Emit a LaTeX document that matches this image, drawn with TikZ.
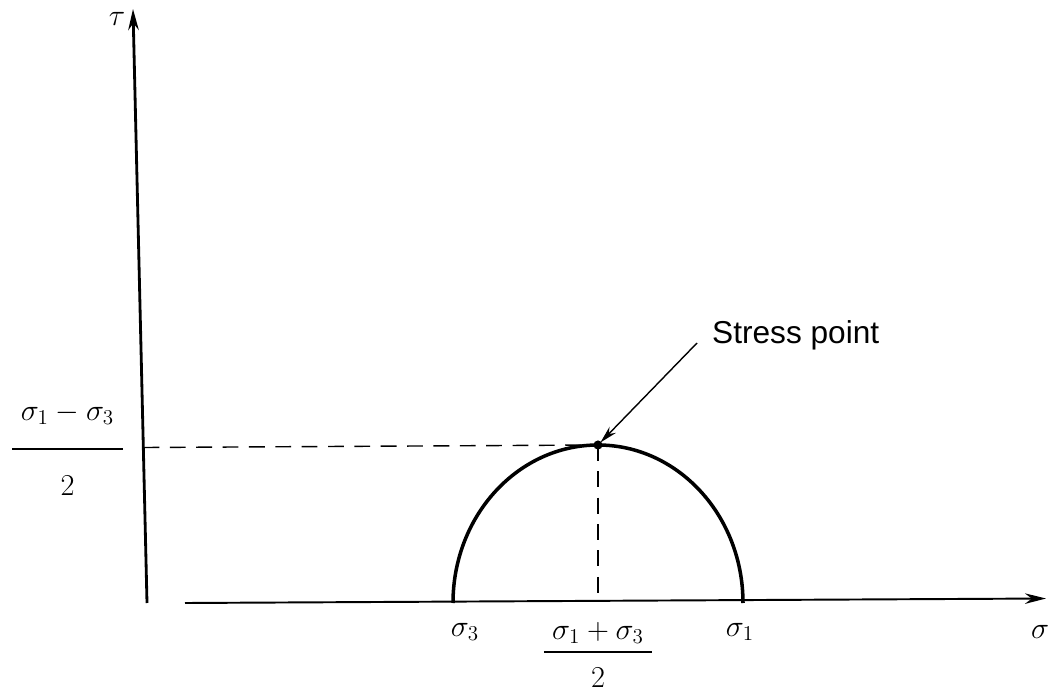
\documentclass[tikz,border=0pt]{standalone}
\usepackage{amsmath}
\usepackage{fontspec}
\setsansfont{Liberation Sans}
\usetikzlibrary{arrows.meta,positioning}

\tikzset{
  axis/.style={line width=1.6pt,-{Stealth[length=12pt,width=6pt]}},
  guide/.style={dashed,line width=0.8pt,dash pattern=on 9pt off 6pt},
  lbl/.style={font=\fontsize{18}{20}\selectfont}
}

\begin{document}
\begin{tikzpicture}
\useasboundingbox (0,0) rectangle (20.98,13.9);
% axes
\coordinate (o) at (2.94,1.84);
\coordinate (ytop) at (2.66,13.72);
\coordinate (xs) at (3.7,1.84);
\coordinate (xe) at (20.92,1.93);
\draw[axis] (o) -- (ytop);
\draw[axis,line width=1.1pt] (xs) -- (xe);
\node[lbl] (tau) at (2.34,13.52) {$\tau$};
\node[lbl] (sig) at (20.8,1.26) {$\sigma$};
% circle
\coordinate (s3) at (9.06,1.84);
\coordinate (s1) at (14.86,1.84);
\coordinate (top) at (11.96,5.0);
\draw[line width=2pt] (s3) arc[start angle=180,end angle=0,x radius=2.9cm,y radius=3.16cm];
\fill (top) circle (2.6pt);
% dashed guides
\coordinate (yl) at (2.87,4.95);
\coordinate (xb) at (11.96,1.84);
\draw[guide] (yl) -- (top);
\draw[guide] (top) -- (xb);
% labels
\node[lbl] (half) at (1.35,4.92) {$\dfrac{\;\sigma_1-\sigma_3\rule[-14pt]{0pt}{14pt}\;}{\rule{0pt}{24pt}2}$};
\node[lbl] (n3) at (9.3,1.26) {$\sigma_3$};
\node[lbl] (n1) at (14.8,1.26) {$\sigma_1$};
\node[lbl] (mean) at (11.96,0.8) {$\dfrac{\;\sigma_1+\sigma_3\rule[-4pt]{0pt}{4pt}\;}{\rule{0pt}{18pt}2}$};
\node[lbl,font=\fontsize{18}{20}\sffamily,anchor=west] (stress) at (14.12,7.2) {Stress point};
\coordinate (tail) at (13.94,7.04);
\draw[line width=0.8pt,-{Stealth[length=10pt,width=5pt]},shorten >=2pt] (tail) -- (top);
\end{tikzpicture}
\end{document}
